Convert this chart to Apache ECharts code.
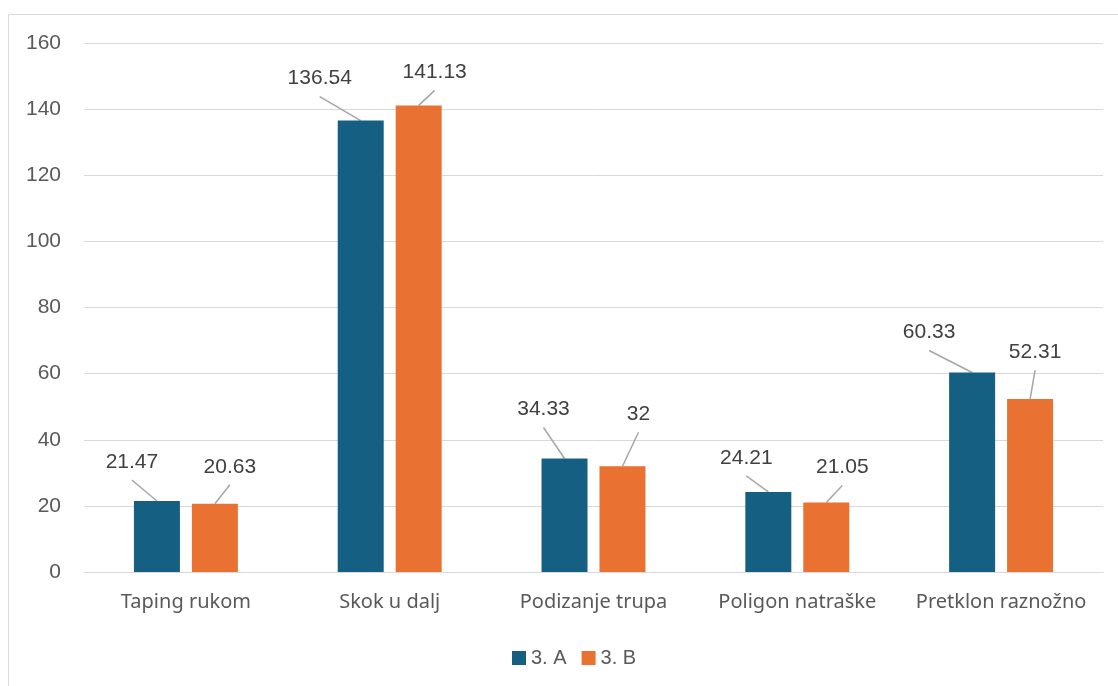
<!DOCTYPE html>
<html>
<head>
<meta charset="utf-8">
<script src="https://cdn.jsdelivr.net/npm/echarts@6/dist/echarts.min.js"></script>
<style>
html,body{margin:0;padding:0;background:#fff;}
#chart{width:1118px;height:686px;}
</style>
</head>
<body>
<div id="chart"></div>
<script>
const categories = ['Taping rukom', 'Skok u dalj', 'Podizanje trupa', 'Poligon natraške', 'Pretklon raznožno'];
const seriesA = [21.47, 136.54, 34.33, 24.21, 60.33];
const seriesB = [20.63, 141.13, 32, 21.05, 52.31];
const seriesNames = ['3. A', '3. B'];
const yTicks = { min: 0, max: 160, interval: 20 };

// style: bar geometry and label offsets (label centre relative to bar top centre)
const BAR_W = 46, BAR_GAP_PX = 12;
const labelOffsets = [
  [[-25, -39], [-41, -42], [-21, -49], [-22, -34], [-43, -40]],
  [[15, -37], [16, -33], [16, -52], [16, -35], [5, -47]]
];
const LINE_START_DY = 18;

function makeLayout(s) {
  return function (p) {
    const r = p.rect;
    const cx = r.x + r.width / 2;
    const o = labelOffsets[s][p.dataIndex];
    return { x: cx + o[0], y: r.y + o[1], align: 'center', verticalAlign: 'middle' };
  };
}

// leader line data: [categoryIndex, value, seriesIndex]
const leaderData = [];
[seriesA, seriesB].forEach(function (arr, s) {
  arr.forEach(function (v, i) { leaderData.push([i, v, s]); });
});

function renderLeader(params, api) {
  const i = api.value(0), v = api.value(1), s = api.value(2);
  const pt = api.coord([i, v]);
  const shift = (BAR_W + BAR_GAP_PX) / 2;
  const cx = pt[0] + (s === 0 ? -shift : shift);
  const top = pt[1];
  const o = labelOffsets[s][i];
  const lx = cx + o[0], ly = top + o[1] + LINE_START_DY;
  return {
    type: 'line',
    shape: { x1: lx, y1: ly, x2: cx, y2: top },
    style: { stroke: '#a6a6a6', lineWidth: 1.5 },
    silent: true
  };
}

const chart = echarts.init(document.getElementById('chart'));
const labelStyle = {
  show: true, position: 'top', color: '#404040', fontSize: 21,
  fontFamily: 'Liberation Sans'
};
chart.setOption({
  animation: false,
  graphic: [{
    type: 'rect', shape: { x: 8.5, y: 14.5, width: 1300, height: 900 },
    style: { fill: 'none', stroke: '#d9d9d9', lineWidth: 1 }, silent: true
  }],
  grid: { left: 84, right: 15, top: 43, bottom: 114 },
  legend: {
    top: 648, left: 512, itemWidth: 14, itemHeight: 14, itemGap: 15, padding: 0,
    icon: 'rect',
    textStyle: { color: '#595959', fontSize: 20, fontFamily: 'Liberation Sans' },
    data: seriesNames
  },
  xAxis: {
    type: 'category', data: categories,
    axisLine: { lineStyle: { color: '#d9d9d9' } },
    axisTick: { show: false },
    axisLabel: { color: '#595959', fontSize: 20, fontFamily: 'Noto Sans', margin: 20, interval: 0 }
  },
  yAxis: {
    type: 'value', min: yTicks.min, max: yTicks.max, interval: yTicks.interval,
    axisLine: { show: false }, axisTick: { show: false },
    axisLabel: { color: '#595959', fontSize: 21, fontFamily: 'Liberation Sans', margin: 23 },
    splitLine: { lineStyle: { color: '#d9d9d9' } }
  },
  series: [
    {
      name: seriesNames[0], type: 'bar', data: seriesA, barWidth: BAR_W, barGap: '26%',
      itemStyle: { color: '#156082' },
      label: labelStyle,
      labelLayout: makeLayout(0)
    },
    {
      name: seriesNames[1], type: 'bar', data: seriesB, barWidth: BAR_W, barGap: '26%',
      itemStyle: { color: '#E97132' },
      label: labelStyle,
      labelLayout: makeLayout(1)
    },
    {
      type: 'custom', name: 'leaders', data: leaderData, renderItem: renderLeader,
      encode: { x: 0, y: 1 }, z: 1, silent: true
    }
  ]
});
</script>
</body>
</html>
